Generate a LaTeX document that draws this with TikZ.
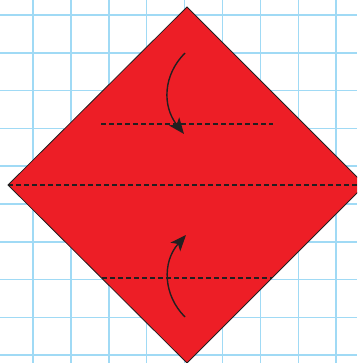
\documentclass[tikz,border=0pt]{standalone}
\usetikzlibrary{arrows.meta}
\definecolor{GridBlue}{RGB}{160,218,245}
\definecolor{FoldRed}{RGB}{237,30,38}
\definecolor{InkDark}{RGB}{35,31,32}
\begin{document}
\begin{tikzpicture}[x=1pt,y=-1pt,>={Stealth[length=16pt,width=13pt,inset=4pt]},
    foldline/.style={InkDark,line width=1.1pt,dash pattern=on 5pt off 3pt},
    turnarrow/.style={->,InkDark,line width=1.4pt}]
    \useasboundingbox (0,0) rectangle (357,363);
    \clip (0,0) rectangle (357,363);
    % grid paper
    \foreach \gx in {0,...,8}
      \draw[GridBlue,line width=1.5pt] ({33+37.9*\gx},0) -- ({33+37.9*\gx},363);
    \foreach \gy in {0,...,9}
      \draw[GridBlue,line width=1.5pt] (0,{15+37.8*\gy}) -- (357,{15+37.8*\gy});
    % the square, turned on its corner
    \filldraw[fill=FoldRed,draw=InkDark,line width=0.8pt]
      (187,7) -- (365,185) -- (187,363) -- (8,185) -- cycle;
    \coordinate (upL) at (101,124);
    \coordinate (upR) at (273,124);
    \coordinate (midL) at (8,185);
    \coordinate (midR) at (365,185);
    \coordinate (loL) at (102,278);
    \coordinate (loR) at (272,278);
    \draw[foldline] (upL) -- (upR);
    \draw[foldline] (midL) -- (midR);
    \draw[foldline] (loL) -- (loR);
    % folding arrows
    \coordinate (topStart) at (185,53);
    \coordinate (topEnd) at (184,134);
    \coordinate (botStart) at (185,317);
    \coordinate (botEnd) at (186,235);
    \draw[turnarrow] (topStart) .. controls (163,75) and (162,106) .. (topEnd);
    \draw[turnarrow] (botStart) .. controls (163,295) and (162,262) .. (botEnd);
\end{tikzpicture}
\end{document}
